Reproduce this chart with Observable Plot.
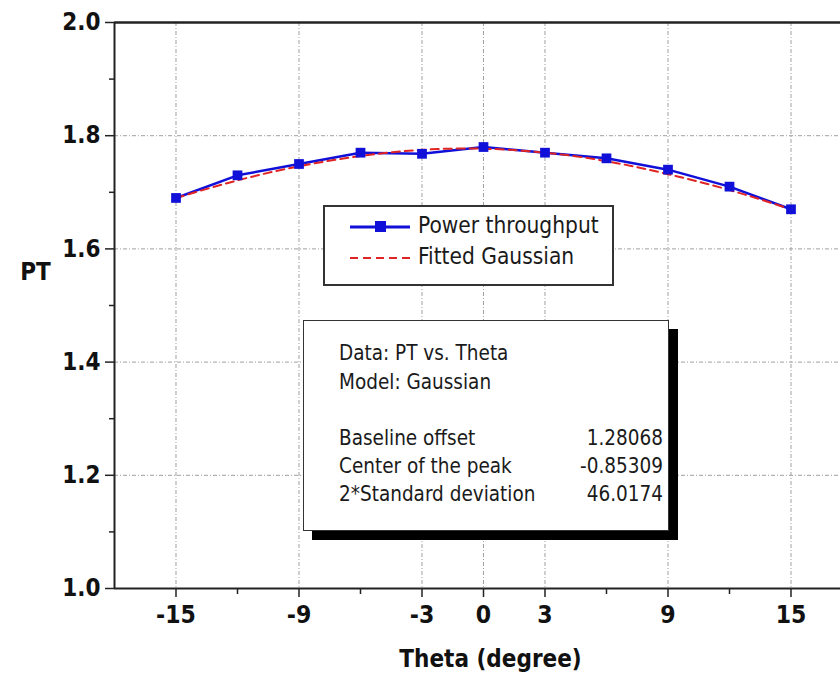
<!DOCTYPE html>
<html>
<head>
<meta charset="utf-8">
<script src="https://cdn.jsdelivr.net/npm/d3@7"></script>
<script src="https://cdn.jsdelivr.net/npm/@observablehq/plot@0.6"></script>
<style>
  html, body { margin: 0; padding: 0; background: #fff; overflow: hidden; }
  #wrap { position: relative; width: 840px; height: 675px; }
  .box { position: absolute; background: #fff; box-sizing: border-box; }
  .txt { position: absolute; font-family: "DejaVu Sans Condensed", "DejaVu Sans", sans-serif; color: #1a1a1a; white-space: nowrap; line-height: 1; }
</style>
</head>
<body>
<div id="wrap"></div>
<script>
// ---- data ----
const theta = [-15, -12, -9, -6, -3, 0, 3, 6, 9, 12, 15];
const powerThroughput = [1.69, 1.73, 1.75, 1.77, 1.768, 1.78, 1.77, 1.76, 1.74, 1.71, 1.67];
const fittedGaussian = [1.690, 1.721, 1.746, 1.764, 1.775, 1.777, 1.770, 1.755, 1.732, 1.704, 1.670];
const xMajorTicks = [-15, -9, -3, 0, 3, 9, 15];
const xMinorTicks = [-12, -6, 6, 12];
const yMajorTicks = [1.0, 1.2, 1.4, 1.6, 1.8, 2.0];
const yMinorTicks = [1.1, 1.3, 1.5, 1.7, 1.9];
const yGridTicks = [1.2, 1.4, 1.6, 1.8];
const seriesNames = ["Power throughput", "Fitted Gaussian"];
const statsHeader = ["Data: PT vs. Theta", "Model: Gaussian"];
const statsNames = ["Baseline offset", "Center of the peak", "2*Standard deviation"];
const statsValues = ["1.28068", "-0.85309", "46.0174"];

const measured = theta.map((t, i) => ({theta: t, pt: powerThroughput[i]}));
const fitted = theta.map((t, i) => ({theta: t, pt: fittedGaussian[i]}));

const FONT = "'DejaVu Sans Condensed', 'DejaVu Sans', sans-serif";
const blue = "#1010d8";
const red = "#e02424";
const gridStyle = {stroke: "#a0a0a0", strokeOpacity: 1, strokeWidth: 1, strokeDasharray: "4,2,1,2"};

const chart = Plot.plot({
  width: 840,
  height: 675,
  marginLeft: 114,
  marginRight: 0,
  marginTop: 22,
  marginBottom: 87,
  style: {fontFamily: FONT, background: "#fff", overflow: "visible"},
  x: {domain: [-18, 17.415]},
  y: {domain: [1, 2]},
  marks: [
    Plot.gridX(xMajorTicks, gridStyle),
    Plot.gridY(yGridTicks, gridStyle),
    Plot.axisX({ticks: xMajorTicks, tickSize: 9, tickPadding: 8, fontSize: 24.5, fontWeight: "bold", stroke: "#222", strokeWidth: 1.5, color: "#111", tickFormat: d => String(d), label: null}),
    Plot.axisX({ticks: xMinorTicks, tickSize: 6, stroke: "#222", strokeWidth: 1.5, text: null, label: null}),
    Plot.axisY({ticks: yMajorTicks, tickSize: 9, tickPadding: 5, fontSize: 24, fontWeight: "bold", stroke: "#222", strokeWidth: 1.5, color: "#111", tickFormat: d3.format(".1f"), label: null}),
    Plot.axisY({ticks: yMinorTicks, tickSize: 5, stroke: "#222", strokeWidth: 1.5, text: null, label: null}),
    Plot.ruleY([2], {stroke: "#222", strokeWidth: 2.5}),
    Plot.ruleY([1], {stroke: "#222", strokeWidth: 2}),
    Plot.ruleX([-18], {stroke: "#222", strokeWidth: 2}),
    Plot.line(measured, {x: "theta", y: "pt", stroke: blue, strokeWidth: 2.5}),
    Plot.line(fitted, {x: "theta", y: "pt", stroke: red, strokeWidth: 2, strokeDasharray: "8,5", curve: "natural"}),
    Plot.dot(measured, {x: "theta", y: "pt", symbol: "square", r: 5.5, fill: blue, stroke: "none"}),
    Plot.text(["PT"], {frameAnchor: "left", dx: -79, dy: -33, fontSize: 24, fontWeight: "bold", fill: "#111", textAnchor: "middle"}),
    Plot.text(["Theta (degree)"], {frameAnchor: "bottom", dx: 13, dy: 78, lineAnchor: "bottom", fontSize: 24, fontWeight: "bold", fill: "#111", textAnchor: "middle"})
  ]
});

const wrap = document.getElementById("wrap");
wrap.appendChild(chart);

function addBox(left, top, w, h, css) {
  const d = document.createElement("div");
  d.className = "box";
  Object.assign(d.style, {left: left + "px", top: top + "px", width: w + "px", height: h + "px"}, css);
  wrap.appendChild(d);
  return d;
}
function addText(str, left, top, size, align) {
  const d = document.createElement("div");
  d.className = "txt";
  d.textContent = str;
  d.style.fontSize = size + "px";
  d.style.top = top + "px";
  if (align === "right") d.style.right = (840 - left) + "px"; else d.style.left = left + "px";
  wrap.appendChild(d);
  return d;
}

// legend
addBox(323, 205, 291, 81, {border: "2px solid #333"});
const sw = document.createElementNS("http://www.w3.org/2000/svg", "svg");
sw.setAttribute("width", 70); sw.setAttribute("height", 52);
Object.assign(sw.style, {position: "absolute", left: "345px", top: "210px"});
sw.innerHTML = `<line x1="5" x2="65" y1="17" y2="17" stroke="${blue}" stroke-width="3"/>
<rect x="30" y="11" width="11" height="11" fill="${blue}"/>
<line x1="5" x2="65" y1="48" y2="48" stroke="${red}" stroke-width="2" stroke-dasharray="8,5"/>`;
wrap.appendChild(sw);
addText(seriesNames[0], 418, 214, 22.5);
addText(seriesNames[1], 418, 245, 22.5);

// stats box
addBox(303, 320, 366, 211, {border: "1.5px solid #333", boxShadow: "9px 9px 0 #000"});
addText(statsHeader[0], 339, 343, 20.5);
addText(statsHeader[1], 339, 372, 20.5);
statsNames.forEach((s, i) => addText(s, 339, 428 + i * 28, 20.5));
statsValues.forEach((s, i) => addText(s, 663, 428 + i * 28, 20.5, "right"));
</script>
</body>
</html>
